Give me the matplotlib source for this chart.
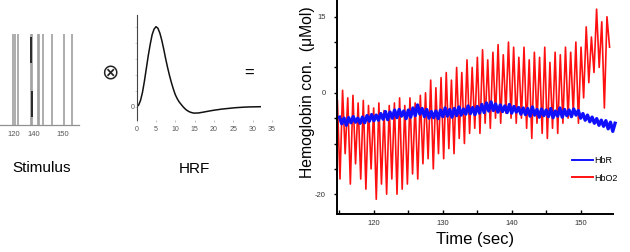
import numpy as np
import matplotlib
matplotlib.use('Agg')
from matplotlib import pyplot as plt

plt.rcParams['font.family'] = ['Liberation Sans', 'DejaVu Sans']

# stimulus train (panel units), grey onset lines and the two dark marks
stim_x = [13.3, 14.7, 18.3, 30.7, 32.3, 37.7, 39.3, 43.3, 51.7, 64.3, 72.0]
dark_x = [31.0, 32.0]
dark_lo = [0.68, 0.09]
dark_hi = [0.965, 0.375]
stim_tick_pos = [13.3, 33.3, 62.3]
stim_tick_lab = ['120', '140', '150']

hrf_t = [0, 0.5, 1, 1.5, 2, 2.5, 3, 3.5, 4, 4.5, 5, 5.5, 6, 6.5, 7, 7.5, 8,
         8.5, 9, 9.5, 10, 10.5, 11, 11.5, 12, 12.5, 13, 13.5, 14, 14.5, 15,
         16, 17, 18, 19, 20, 21, 22, 23, 24, 25, 26, 27, 28, 29, 30, 31, 32]
hrf_v = [0.0, 0.02, 0.08, 0.18, 0.32, 0.48, 0.64, 0.78, 0.9, 0.97, 1.0, 0.98,
         0.92, 0.83, 0.72, 0.6, 0.49, 0.39, 0.3, 0.22, 0.15, 0.1, 0.06, 0.03,
         0.0, -0.025, -0.045, -0.06, -0.07, -0.077, -0.08, -0.078, -0.07,
         -0.061, -0.052, -0.044, -0.037, -0.03, -0.025, -0.02, -0.015, -0.011,
         -0.008, -0.005, -0.003, -0.002, -0.001, 0.0]

# HbO2: alternating troughs / peaks (uMol)
hbo_peaks = [0.5, -1, -0.5, -2, -1.5, -2.5, -3, -2, -3.5, -2.5, -2, -1, -2.5,
             -1, -2, -0.5, 0, 2.5, 1, 3, 4, 2.5, 5, 4, 6.5, 5, 7, 8.5, 6.5, 8,
             9.5, 7.5, 10, 9, 7, 9, 6.5, 8, 7, 9, 6, 8, 7.5, 9, 8, 10, 9, 13,
             11, 16.5, 14, 15]
hbo_troughs = [-17, -12, -18, -14, -17, -19, -15, -21, -18, -20, -17, -20, -19,
               -18, -16, -17, -14, -13, -15, -12, -13, -11, -12, -9, -10, -8,
               -7, -8, -6, -7, -5, -6, -4, -5, -6, -5, -7, -9, -6, -8, -9, -7,
               -8, -6, -5, -4, -6, -1, 2, 4, 5, -3]
hbo_start = -1.5
hbo_end = 9.0

# HbR, sampled every 1/3 s from 115 to 155
hbr = [-4.8, -6.1, -5.0, -6.4, -4.9, -5.9, -4.7, -5.8, -5.0, -6.0,
       -4.8, -5.9, -4.5, -5.6, -4.3, -5.5, -4.4, -5.4, -4.1, -5.2,
       -3.7, -5.3, -3.8, -5.0, -3.4, -4.9, -3.3, -4.6, -3.6, -5.1,
       -3.4, -4.8, -3.0, -4.5, -2.4, -4.2, -3.1, -4.7, -3.3, -5.0,
       -3.7, -4.9, -3.6, -5.1, -3.4, -4.7, -3.0, -4.6, -3.3, -4.8,
       -3.1, -4.5, -2.8, -4.4, -3.2, -4.2, -2.6, -4.1, -2.9, -4.3,
       -2.7, -4.0, -2.3, -3.9, -2.0, -3.6, -1.8, -3.5, -2.2, -3.8,
       -2.4, -3.7, -2.6, -3.9, -2.3, -4.0, -2.7, -3.8, -2.9, -4.2,
       -3.0, -4.3, -3.1, -4.6, -2.8, -4.4, -3.3, -4.8, -3.2, -4.5,
       -3.4, -4.7, -3.1, -4.9, -3.6, -4.6, -3.0, -4.8, -3.3, -4.5,
       -3.4, -4.7, -3.2, -4.4, -3.5, -5.0, -4.1, -5.4, -4.4, -5.7,
       -4.8, -6.0, -5.1, -6.4, -5.4, -6.6, -5.5, -7.1, -5.8, -7.6, -6.0]

hbo = [hbo_start]
for tr, pk in zip(hbo_troughs, hbo_peaks):
    hbo += [tr, pk]
hbo.append(hbo_end)
hbo_t = np.linspace(114.7, 154.2, len(hbo))
hbr_t = np.linspace(115.0, 155.0, len(hbr))

W, H = 630, 252
fig = plt.figure(figsize=(6.3, 2.52), dpi=100)

def box(x0, y0, x1, y1):
    # pixel box -> figure fraction
    return [x0 / W, 1 - y1 / H, (x1 - x0) / W, (y1 - y0) / H]

# --- stimulus ---
ax1 = fig.add_axes(box(0, 31.7, 79, 125))
ax1.vlines(stim_x, 0, 1, color='#a0a0a0', lw=1.2)
ax1.vlines(dark_x, dark_lo, dark_hi, color='#202020', lw=1.3)
ax1.set_xlim(0, 79)
ax1.set_ylim(0, 1.02)
for s in ['top', 'right', 'left']:
    ax1.spines[s].set_visible(False)
ax1.spines['bottom'].set_color('#909090')
ax1.spines['bottom'].set_linewidth(0.9)
ax1.set_yticks([])
ax1.set_xticks(stim_tick_pos)
ax1.set_xticklabels(stim_tick_lab)
ax1.tick_params(axis='x', length=0, pad=4, labelsize=5.5, labelcolor='#555555')
fig.text(42 / W, 1 - 168 / H, 'Stimulus', ha='center', va='center', fontsize=11)

# --- HRF ---
ax2 = fig.add_axes(box(136.7, 15, 271.8, 120))
ax2.plot(hrf_t, hrf_v, color='#111111', lw=1.1)
ax2.set_xlim(0, 35)
ax2.set_ylim(-0.166, 1.146)
for s in ['top', 'right', 'bottom']:
    ax2.spines[s].set_visible(False)
ax2.spines['left'].set_color('#444444')
ax2.spines['left'].set_linewidth(0.8)
ax2.set_xticks(range(0, 36, 5))
ax2.tick_params(axis='x', length=1.5, width=0.5, color='#aaaaaa', pad=3,
                labelsize=5, labelcolor='#555555')
ax2.set_yticks([0, 0.2, 0.4, 0.6, 0.8, 1.0])
ax2.set_yticklabels(['0', '', '', '', '', ''])
ax2.tick_params(axis='y', length=1.5, width=0.5, color='#bbbbbb', pad=0,
                labelsize=5, labelcolor='#555555')
fig.text(110 / W, 1 - 73 / H, '\u2297', ha='center', va='center', fontsize=15,
         family='DejaVu Sans', color='#222222')
fig.text(249 / W, 1 - 73 / H, '=', ha='center', va='center', fontsize=12)
fig.text(194 / W, 1 - 169 / H, 'HRF', ha='center', va='center', fontsize=11)

# --- hemoglobin ---
ax3 = fig.add_axes(box(336.7, 0, 613, 214))
ax3.plot(hbo_t, hbo, color='#ff1010', lw=1.2, label='HbO2')
ax3.plot(hbr_t, hbr, color='#1010ff', lw=2.4, label='HbR', clip_on=False)
ax3.set_xlim(114.6, 154.7)
ax3.set_ylim(-23.9, 18.3)
for s in ['top', 'right']:
    ax3.spines[s].set_visible(False)
for s in ['left', 'bottom']:
    ax3.spines[s].set_linewidth(1.4)
ax3.set_xticks(np.arange(115, 155, 5))
ax3.set_xticklabels(['' if v % 10 else str(v) for v in range(115, 155, 5)])
ax3.tick_params(axis='x', direction='in', length=3, width=1, pad=4,
                labelsize=5.5, labelcolor='#333333')
ax3.set_yticks(np.arange(-20, 16, 5))
ax3.set_yticklabels(['-20', '', '', '', '0', '', '', '15'])
ax3.tick_params(axis='y', direction='out', length=2, width=1, pad=6,
                labelsize=5.5, labelcolor='#333333')
ax3.set_xlabel('Time (sec)', fontsize=12, labelpad=4)
fig.text(307.7 / W, 1 - 92 / H, 'Hemoglobin con.  (\u03bcMol)', rotation=90,
         ha='center', va='center', fontsize=11.3)
h, l = ax3.get_legend_handles_labels()
ax3.legend(h[::-1], l[::-1], loc='upper left', bbox_to_anchor=(571.7 / W, 1 - 156 / H),
           bbox_transform=fig.transFigure, frameon=False, fontsize=6.5,
           handlelength=2.4, handletextpad=0.1, labelspacing=0.95, borderpad=0,
           borderaxespad=0)
for line in ax3.get_legend().get_lines():
    line.set_linewidth(1.4)

fig.savefig('out.png', dpi=100)
